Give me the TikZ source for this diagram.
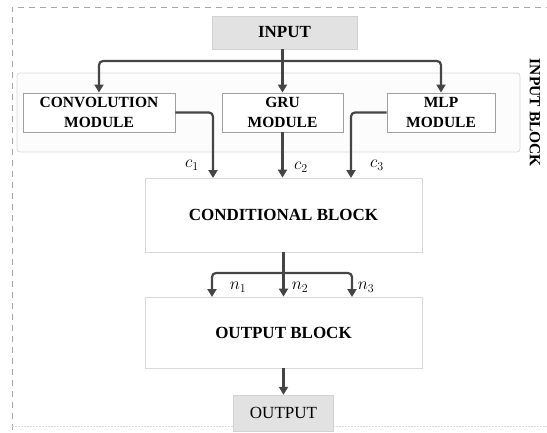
\documentclass[tikz,border=0pt]{standalone}
\usepackage{fontspec}
\setmainfont{Liberation Serif}
\usetikzlibrary{arrows.meta}
\definecolor{arrcol}{HTML}{454545}
\definecolor{boxfill}{HTML}{E2E2E2}
\tikzset{
  arr/.style={draw=arrcol, line width=2.2pt, -{Triangle[width=9pt,length=8pt]}, rounded corners=4pt},
  iobox/.style={draw=gray!35, fill=boxfill, inner sep=0pt, font=\fontsize{17}{19}\selectfont},
  modbox/.style={draw=gray!75, line width=0.9pt, fill=white, inner sep=0pt, align=center, font=\bfseries\fontsize{15.5}{19.5}\selectfont},
  bigbox/.style={draw=gray!30, line width=0.8pt, fill=white, inner sep=0pt, font=\bfseries\fontsize{17}{19}\selectfont},
  lbl/.style={font=\fontsize{17}{19}\selectfont, inner sep=0pt}
}
\begin{document}
\begin{tikzpicture}[x=1pt,y=-1pt]
\useasboundingbox (0,0) rectangle (547,432);
% outer dashed frame
\draw[gray!70, line width=0.9pt, dash pattern=on 6pt off 5pt] (12,430) -- (12,7) -- (547,7);
\draw[gray!30, line width=0.8pt, dash pattern=on 1.5pt off 1.5pt] (12,426) -- (547,426);
% input block frame
\node[draw=gray!30, line width=0.8pt, rounded corners=3pt, fill=gray!2, minimum width=503pt, minimum height=79pt, inner sep=0pt] (inblock) at (268.5,112.5) {};
\node[rotate=-90, font=\bfseries\fontsize{15.5}{17}\selectfont, inner sep=0pt] (inlabel) at (535,113) {INPUT BLOCK};
% nodes
\node[iobox, font=\bfseries\fontsize{17}{19}\selectfont, minimum width=145pt, minimum height=33pt] (input) at (284.5,32.5) {INPUT};
\node[modbox, minimum width=152pt, minimum height=39pt] (conv) at (99,112.5) {CONVOLUTION\\MODULE};
\node[modbox, minimum width=121pt, minimum height=39pt] (gru) at (282.5,112.5) {GRU\\MODULE};
\node[modbox, minimum width=108pt, minimum height=39pt] (mlp) at (441,112.5) {MLP\\MODULE};
\node[bigbox, minimum width=277pt, minimum height=74pt] (cond) at (283.5,215) {CONDITIONAL BLOCK};
\node[bigbox, minimum width=277pt, minimum height=71pt] (outb) at (283.5,332.5) {OUTPUT BLOCK};
\node[iobox, minimum width=100pt, minimum height=36pt] (output) at (283.5,413) {OUTPUT};
% input splits
\coordinate (split) at (282.5,61);
\draw[arr] (input.south -| gru.north) -- (gru.north);
\draw[arr] (split) -| (conv.north);
\draw[arr] (split) -| (mlp.north);
% module outputs
\coordinate (c1end) at (213,178);
\coordinate (c3end) at (351,178);
\draw[arr] (conv.east) -| (c1end);
\draw[arr] (gru.south) -- (gru.south |- cond.north);
\draw[arr] (mlp.west) -| (c3end);
\node[lbl] (c1) at (192,165) {$c_1$};
\node[lbl] (c2) at (301,167) {$c_2$};
\node[lbl] (c3) at (377,165) {$c_3$};
% conditional outputs
\coordinate (split2) at (283.5,273);
\coordinate (n1end) at (212,297);
\coordinate (n3end) at (352,297);
\draw[arr] (cond.south) -- (cond.south |- outb.north);
\draw[arr] (split2) -| (n1end);
\draw[arr] (split2) -| (n3end);
\node[lbl] (n1) at (238,287) {$n_1$};
\node[lbl] (n2) at (300,287) {$n_2$};
\node[lbl] (n3) at (366,287) {$n_3$};
% output arrow
\draw[arr] (outb.south) -- (output.north);
\end{tikzpicture}
\end{document}
